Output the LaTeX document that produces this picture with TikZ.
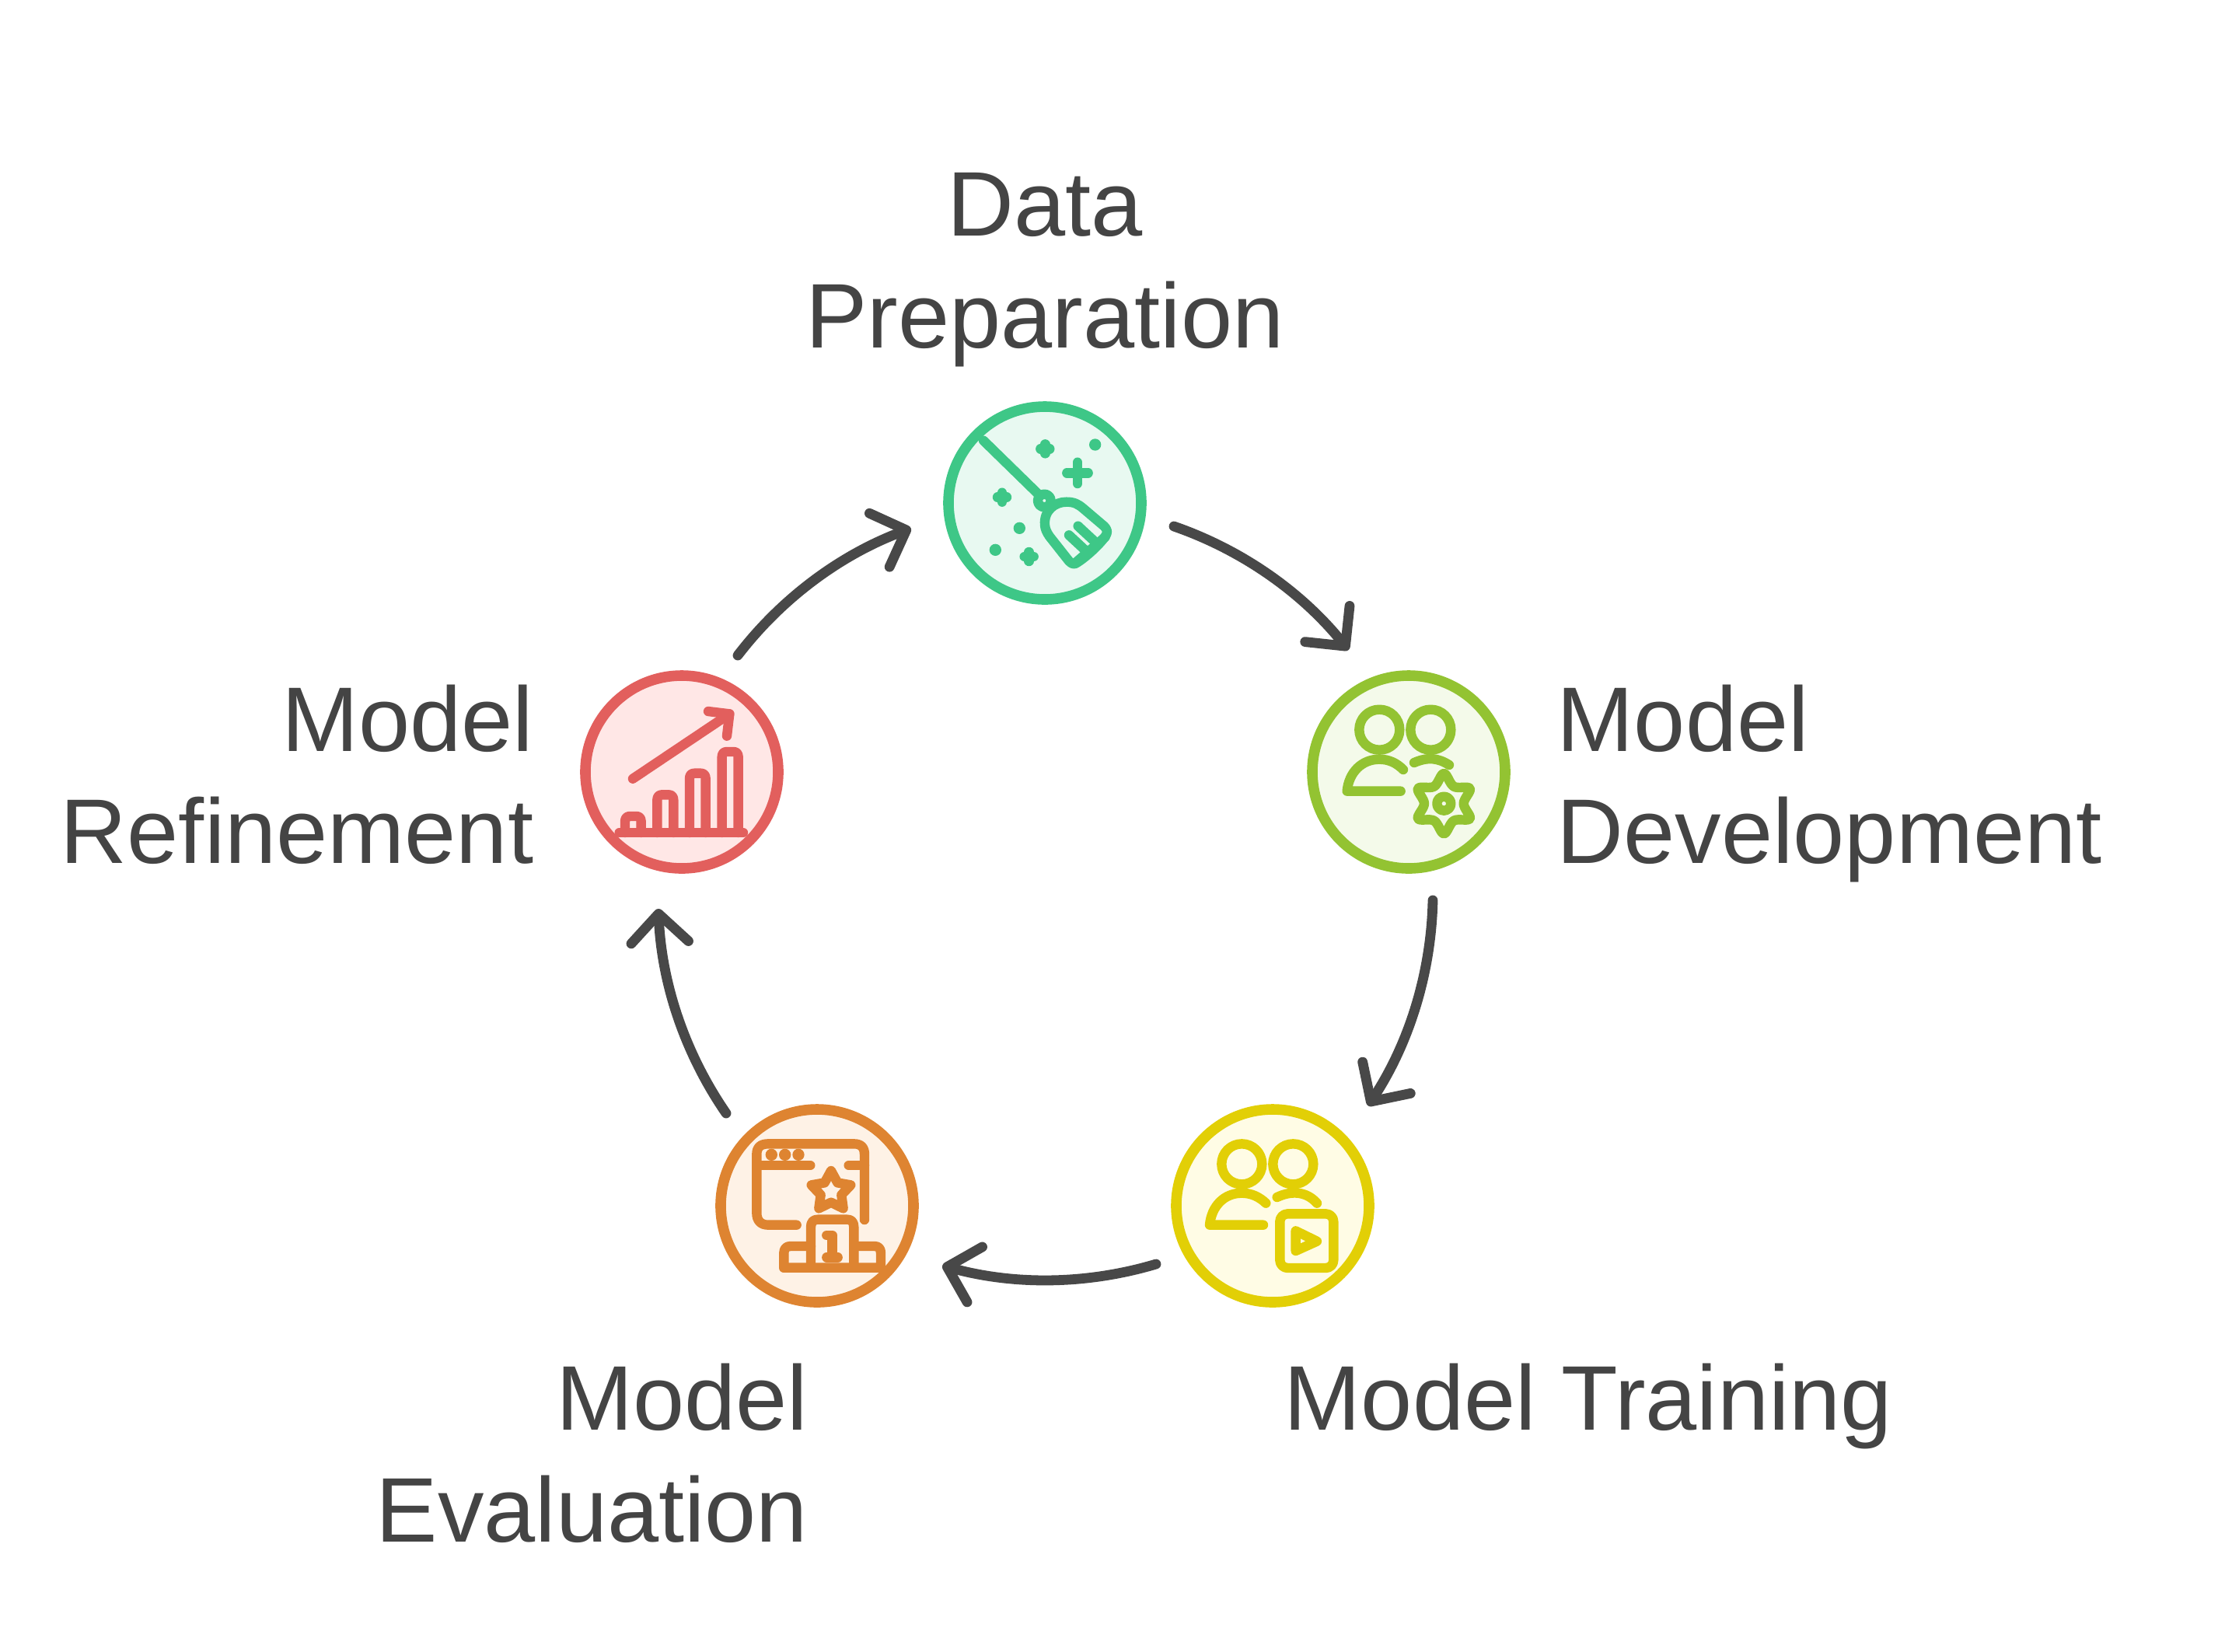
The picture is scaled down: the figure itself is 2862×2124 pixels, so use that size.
\documentclass[tikz,border=0pt]{standalone}
\usepackage{fontspec}
\setmainfont[FakeStretch=1.008]{Liberation Sans}
\usetikzlibrary{arrows.meta}
\definecolor{ink}{HTML}{444444}
\definecolor{arrowink}{HTML}{484848}
\definecolor{cgreen}{HTML}{3EC787}\definecolor{fgreen}{HTML}{E8F9F1}
\definecolor{clime}{HTML}{93C332}\definecolor{flime}{HTML}{F4FAEA}
\definecolor{cyellow}{HTML}{E2CF06}\definecolor{fyellow}{HTML}{FFFCE5}
\definecolor{corange}{HTML}{DE8431}\definecolor{forange}{HTML}{FEF2E6}
\definecolor{cred}{HTML}{E25F5D}\definecolor{fred}{HTML}{FFE7E6}
\tikzset{
 disc/.style={circle,draw=#1,line width=3.4pt,minimum size=62pt,inner sep=0pt},
 lab/.style={text=ink,font=\fontsize{29.5}{36}\selectfont,inner sep=0pt},
 flow/.style={draw=arrowink,line width=3.2pt,line cap=round,bend left=16,looseness=0.87,shorten >=-1pt,
   -{Straight Barb[length=9.2pt,width=18.4pt,round]}},
 glyph/.style={x=0.08333pt,y=-0.08333pt,line width=3.1pt,line cap=round,line join=round,draw=#1}
}
\begin{document}
\begin{tikzpicture}[x=0.25pt,y=-0.25pt]
\useasboundingbox (0,0) rectangle (2862,2124);
% discs
\node[disc=cgreen,fill=fgreen] (prep) at (1344,647) {};
\node[disc=clime,fill=flime] (dev) at (1812,993) {};
\node[disc=cyellow,fill=fyellow] (train) at (1637,1551) {};
\node[disc=corange,fill=forange] (eval) at (1051,1551) {};
\node[disc=cred,fill=fred] (refine) at (877,993) {};
% labels
\node[lab,align=center,anchor=south] (tprep) at (1344,473) {Data\\Preparation};
\node[lab,align=left,anchor=south west] (tdev) at (2002,1136) {Model\\Development};
\node[lab,anchor=south west] (ttrain) at (1651,1865) {Model Training};
\node[lab,align=right,anchor=south east] (teval) at (1040,1985) {Model\\Evaluation};
\node[lab,align=right,anchor=south east] (trefine) at (687,1112) {Model\\Refinement};
% connectors
\coordinate (a1) at (1510,677); \coordinate (b1) at (1732,833);
\coordinate (a2) at (1843,1158); \coordinate (b2) at (1762,1419);
\coordinate (a3) at (1487,1626); \coordinate (b3) at (1216,1629);
\coordinate (a4) at (934,1432); \coordinate (b4) at (847,1173);
\coordinate (a5) at (949,843); \coordinate (b5) at (1168,681);
\draw[flow] (a1) to (b1);
\draw[flow] (a2) to (b2);
\draw[flow] (a3) to (b3);
\draw[flow] (a4) to (b4);
\draw[flow] (a5) to (b5);
% broom
\begin{scope}[shift={(1190,500)},glyph=cgreen]
\draw (225,200)--(440,410);
\draw (460,432) circle (25);
\draw (462,525) .. controls (458,470) and (500,437) .. (545,437) .. controls (575,437) and (590,445) .. (610,462) -- (690,530) .. controls (705,545) and (705,555) .. (695,570) .. controls (670,605) and (620,650) .. (585,672) .. controls (575,680) and (565,675) .. (555,665) -- (480,570) .. controls (468,553) and (463,540) .. (462,525);
\draw (555,565)--(625,630);
\draw (590,530)--(660,595);
\draw (695,572)--(580,672);
\draw (445,232)--(481,232) (463,214)--(463,250);
\draw (547,325)--(629,325) (588,284)--(588,366);
\draw (279,419)--(315,419) (297,401)--(297,437);
\draw (383,648)--(419,648) (401,630)--(401,666);
\fill[cgreen] (656,216) circle (23) (364,538) circle (23) (271,622) circle (23);
\end{scope}
% people and gear
\begin{scope}[shift={(1660,850)},glyph=clime]
\draw (343,266) circle (78) (541,266) circle (78);
\draw (425,503) -- (218,503) .. controls (225,430) and (275,380) .. (343,380) .. controls (380,380) and (410,395) .. (435,420);
\draw (477,393) .. controls (530,370) and (570,375) .. (612,402);
\draw plot[smooth cycle,tension=0.6] coordinates {(592,435)(630,485)(692,493)(668,551)(692,609)(630,617)(592,667)(554,617)(492,609)(516,551)(492,493)(554,485)};
\draw (592,551) circle (27);
\end{scope}
% people and play
\begin{scope}[shift={(1490,1410)},glyph=cyellow]
\draw (322,262) circle (78) (520,262) circle (78);
\draw (405,497) -- (198,497) .. controls (205,424) and (254,374) .. (322,374) .. controls (359,374) and (390,389) .. (415,413);
\draw (458,390) .. controls (510,365) and (570,365) .. (612,413);
\draw[rounded corners=2.5pt] (469,454) rectangle (676,663);
\draw (530,520)--(530,597)--(612,560)--cycle;
\end{scope}
% window and podium
\begin{scope}[shift={(910,1410)},glyph=corange]
\draw (344,497) -- (235,497) .. controls (205,497) and (190,480) .. (190,450) -- (190,225) .. controls (190,197) and (205,184) .. (235,184) -- (565,184) .. controls (592,184) and (606,197) .. (606,225) -- (606,477);
\draw (190,267) -- (397,267) (545,267) -- (606,267);
\fill[corange] (247,226) circle (23) (299,226) circle (23) (351,226) circle (23);
\draw (477,288)--(502,334)--(553,343)--(517,381)--(524,433)--(477,410)--(430,433)--(437,381)--(401,343)--(452,334)--cycle;
\draw (399,655) -- (399,505) .. controls (399,485) and (410,476) .. (425,476) -- (540,476) .. controls (555,476) and (565,485) .. (565,505) -- (565,655);
\draw (295,662) -- (669,662) -- (669,605) .. controls (669,588) and (660,579) .. (645,579) -- (565,579);
\draw (295,662) -- (295,605) .. controls (295,588) and (305,579) .. (320,579) -- (399,579);
\draw (460,537)--(482,537)--(482,620) (460,622)--(503,622);
\end{scope}
% growth chart
\begin{scope}[shift={(730,850)},glyph=cred]
\draw (252,455)--(625,205);
\draw (543,195)--(625,205)--(615,290);
\draw (200,663)--(678,663);
\draw (222,663) -- (222,620) .. controls (222,606) and (230,600) .. (240,600) -- (266,600) .. controls (276,600) and (284,606) .. (284,620) -- (284,663);
\draw (346,663) -- (346,537) .. controls (346,523) and (354,517) .. (364,517) -- (391,517) .. controls (401,517) and (409,523) .. (409,537) -- (409,663);
\draw (471,663) -- (471,454) .. controls (471,440) and (479,434) .. (489,434) -- (515,434) .. controls (525,434) and (533,440) .. (533,454) -- (533,663);
\draw (596,663) -- (596,371) .. controls (596,357) and (604,351) .. (614,351) -- (641,351) .. controls (651,351) and (659,357) .. (659,371) -- (659,663);
\end{scope}
\end{tikzpicture}
\end{document}
